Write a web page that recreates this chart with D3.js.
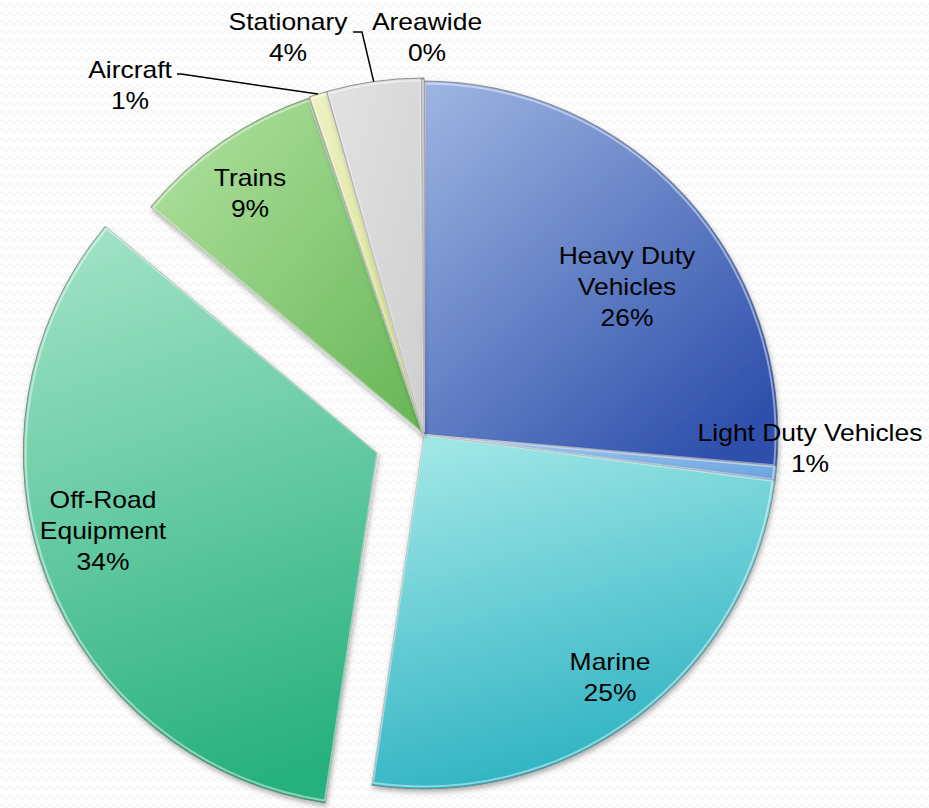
<!DOCTYPE html>
<html>
<head>
<meta charset="utf-8">
<script src="https://cdn.jsdelivr.net/npm/d3@7"></script>
<style>
  html, body { margin: 0; padding: 0; background: #fff; }
  #chart { width: 929px; height: 808px; }
  text { font-family: "Liberation Sans", Arial, sans-serif; fill: #000; }
</style>
</head>
<body>
<div id="chart"></div>
<script>
// data, clockwise from 12 o'clock
const categories = ["Heavy Duty Vehicles", "Light Duty Vehicles", "Marine", "Off-Road Equipment",
                    "Trains", "Aircraft", "Stationary", "Areawide"];
const values = [26.4, 0.65, 25.3, 33.7, 8.75, 0.8, 4.3, 0.1];
const pctLabels = ["26%", "1%", "25%", "34%", "9%", "1%", "4%", "0%"];
const nameLines = [["Heavy Duty", "Vehicles"], ["Light Duty Vehicles"], ["Marine"], ["Off-Road", "Equipment"],
                   ["Trains"], ["Aircraft"], ["Stationary"], ["Areawide"]];

const width = 929;
const height = 808;
const cx = 424;
const cy = 435;
const radius = 354;
const lineH = 31;

// style per slice: gradient stops (light -> dark), explode distance
const styles = {
  "Heavy Duty Vehicles": { c0: "#9fb6e2", c1: "#2d4fab", x1: 0, y1: 0, x2: 0.8, y2: 1, explode: 0 },
  "Light Duty Vehicles": { c0: "#a9cdf0", c1: "#6aa3df", x1: 0, y1: 0, x2: 1, y2: 1, explode: 0 },
  "Marine":              { c0: "#9ee6e6", c1: "#27afc0", x1: 0.3, y1: 0, x2: 0.6, y2: 1, explode: 0 },
  "Off-Road Equipment":  { c0: "#9fe2c6", c1: "#27b07d", x1: 0.3, y1: 0, x2: 0.5, y2: 1, explode: 50 },
  "Trains":              { c0: "#b3e3a2", c1: "#66b555", x1: 0, y1: 0, x2: 1, y2: 1, explode: 2 },
  "Aircraft":            { c0: "#eef2c4", c1: "#d6e08a", x1: 0, y1: 0, x2: 1, y2: 1, explode: 3 },
  "Stationary":          { c0: "#e2e2e2", c1: "#cfcfcf", x1: 0, y1: 0, x2: 1, y2: 1, explode: 3 },
  "Areawide":            { c0: "#c8c8c8", c1: "#a0a0a0", x1: 0, y1: 0, x2: 1, y2: 1, explode: 3 }
};

// label placement relative to the pie centre (text centre of first line)
const labelPos = {
  "Heavy Duty Vehicles": [203, -179],
  "Light Duty Vehicles": [386, -2],
  "Marine":              [186, 227],
  "Off-Road Equipment":  [-321, 65],
  "Trains":              [-174, -257],
  "Aircraft":            [-294, -365],
  "Stationary":          [-136, -413],
  "Areawide":            [3, -413]
};

const svg = d3.select("#chart").append("svg")
  .attr("width", width)
  .attr("height", height);

const defs = svg.append("defs");

// faint wavy background
const pat = defs.append("pattern")
  .attr("id", "waves")
  .attr("patternUnits", "userSpaceOnUse")
  .attr("width", 8)
  .attr("height", 9);
pat.append("path")
  .attr("d", "M0,5 Q2,1 4,5 T8,5")
  .attr("fill", "none")
  .attr("stroke", "#eeeeee")
  .attr("stroke-width", 1);

svg.append("rect")
  .attr("width", width)
  .attr("height", height)
  .attr("fill", "#fdfdfd");
svg.append("rect")
  .attr("width", width)
  .attr("height", height)
  .attr("fill", "url(#waves)");

const shadow = defs.append("filter")
  .attr("id", "shadow")
  .attr("x", "-10%").attr("y", "-10%")
  .attr("width", "120%").attr("height", "120%");
shadow.append("feDropShadow")
  .attr("dx", 1).attr("dy", 3)
  .attr("stdDeviation", 2.5)
  .attr("flood-color", "#000")
  .attr("flood-opacity", 0.3);

categories.forEach((c, i) => {
  const s = styles[c];
  const g = defs.append("linearGradient")
    .attr("id", "grad" + i)
    .attr("x1", s.x1).attr("y1", s.y1)
    .attr("x2", s.x2).attr("y2", s.y2);
  g.append("stop").attr("offset", "0%").attr("stop-color", s.c0);
  g.append("stop").attr("offset", "100%").attr("stop-color", s.c1);
});

const data = categories.map((c, i) => ({ name: c, value: values[i], i }));

const pie = d3.pie()
  .value(d => d.value)
  .sort(null);

const arc = d3.arc()
  .innerRadius(0)
  .outerRadius(radius);

const arcs = pie(data);

const plot = svg.append("g")
  .attr("transform", `translate(${cx},${cy})`);

const slices = plot.selectAll("g.slice")
  .data(arcs)
  .enter()
  .append("g")
  .classed("slice", true)
  .attr("transform", d => {
    const e = styles[d.data.name].explode;
    const a = (d.startAngle + d.endAngle) / 2;
    return `translate(${e * Math.sin(a)},${-e * Math.cos(a)})`;
  })
  .attr("filter", "url(#shadow)");

slices.append("path")
  .attr("d", arc)
  .attr("fill", d => `url(#grad${d.data.i})`)
  .attr("stroke", "#6d6d6d")
  .attr("stroke-opacity", 0.7)
  .attr("stroke-width", 1);

// soft inner highlight along the edges
slices.append("path")
  .attr("d", d3.arc().innerRadius(0).outerRadius(radius - 2.5)
    .startAngle(d => d.startAngle).endAngle(d => d.endAngle).padAngle(0.004))
  .attr("fill", "none")
  .attr("stroke", "#fff")
  .attr("stroke-opacity", 0.45)
  .attr("stroke-width", 2);

// labels (the original font is drawn a bit wider than Arial)
const labels = plot.selectAll("g.label")
  .data(arcs)
  .enter()
  .append("g")
  .classed("label", true)
  .attr("transform", d => `translate(${labelPos[d.data.name][0]},${labelPos[d.data.name][1]}) scale(1.15,1)`);

labels.each(function(d) {
  const g = d3.select(this);
  const lines = nameLines[d.data.i].concat([pctLabels[d.data.i]]);
  g.selectAll("text")
    .data(lines)
    .enter()
    .append("text")
    .attr("x", 0)
    .attr("y", (t, k) => k * lineH)
    .attr("dy", "0.35em")
    .attr("text-anchor", "middle")
    .attr("font-size", 23)
    .text(t => t);
});

// leader lines for the thin slices
function leader(name, pts) {
  const d = arcs.find(a => a.data.name === name);
  const a = (d.startAngle + d.endAngle) / 2;
  const e = styles[name].explode + radius;
  const end = [e * Math.sin(a), -e * Math.cos(a)];
  plot.append("path")
    .attr("d", d3.line()(pts.concat([end])))
    .attr("fill", "none")
    .attr("stroke", "#000")
    .attr("stroke-width", 1.5);
}
leader("Aircraft", [[-247, -361], [-243, -361]]);
leader("Stationary", [[-71, -403], [-62, -403]]);
</script>
</body>
</html>
